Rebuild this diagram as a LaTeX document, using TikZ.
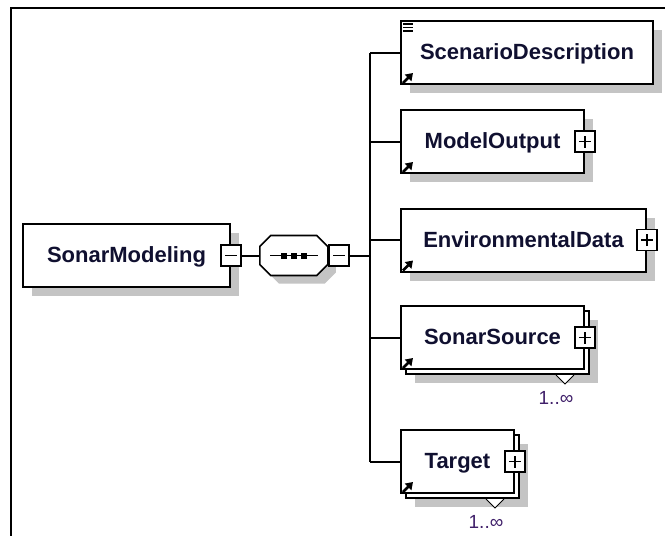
\documentclass[tikz,border=0pt]{standalone}
\usepackage{fontspec}
\setmainfont{Liberation Sans}
\usetikzlibrary{shadows,arrows.meta}

\begin{document}
\begin{tikzpicture}[x=1pt, y=-1pt,
    wire/.style={line width=2pt},
    elembase/.style={draw, line width=2pt, fill=white, anchor=west,
        minimum width=#1, minimum height=63, inner sep=0pt,
        text height=16pt, text depth=1.5pt, text=label_ink,
        font=\bfseries\fontsize{22}{26}\selectfont},
    elem/.style={elembase=#1,
        drop shadow={shadow xshift=9pt, shadow yshift=-9pt, fill=shade_grey, opacity=1}},
    stackelem/.style={elembase=#1,
        drop shadow={shadow xshift=14pt, shadow yshift=-14pt, fill=shade_grey, opacity=1},
        copy shadow={shadow xshift=5pt, shadow yshift=-5pt, fill=white, draw=black,
            line width=2pt, opacity=1}},
    toggle/.style={draw, line width=1.6pt, fill=white, minimum width=20,
        minimum height=21, inner sep=0pt},
    minusbox/.style={toggle, path picture={
        \draw[line width=1.5pt] ([xshift=-6pt]path picture bounding box.center)
            -- ([xshift=6pt]path picture bounding box.center);}},
    plusbox/.style={toggle, path picture={
        \draw[line width=1.5pt] ([xshift=-6pt]path picture bounding box.center)
            -- ([xshift=6pt]path picture bounding box.center)
            ([yshift=-6pt]path picture bounding box.center)
            -- ([yshift=6pt]path picture bounding box.center);}},
    seqoutline/.style={draw, line width=1.6pt, fill=white,
        drop shadow={shadow xshift=8pt, shadow yshift=-8pt, fill=shade_grey, opacity=1}},
    refarrow/.style={line width=2.6pt, -{Triangle[length=7pt, width=9pt]}},
    multiplicity/.style={text=occurs_ink, font=\fontsize{19}{22}\selectfont, inner sep=0pt}
]
    \definecolor{label_ink}{HTML}{101030}
    \definecolor{occurs_ink}{HTML}{40206A}
    \definecolor{shade_grey}{HTML}{C4C4C4}
    \path[use as bounding box, fill=white] (0,0) rectangle (665,536);
    %\draw[help lines] (0,0) grid[step=50] (665,536);
    \draw[line width=2pt] (11,536) -- (11,7.5) -- (665,7.5);

    % root element and its sequence
    \node[elem=207] (modeling) at (22,255.5) {SonarModeling};
    \node[minusbox] (modelingtoggle) at (modeling.east) {};
    \node[minimum width=68, minimum height=40, inner sep=0pt] (seq) at (294,255.5) {};
    \draw[seqoutline] ([shift={(0,-9)}]seq.west) -- ++(11,-11) -- ++(46,0) -- ++(11,11)
        -- ++(0,18) -- ++(-11,11) -- ++(-46,0) -- ++(-11,-11) -- cycle;
    \draw[line width=1.5pt] ([xshift=-24pt]seq.center) -- ([xshift=24pt]seq.center);
    \foreach \dx in {-10,0,10}
        \fill ([shift={(\dx-3,-3)}]seq.center) rectangle ++(6,6);
    \node[minusbox, anchor=west] (seqtoggle) at (seq.east) {};
    \coordinate (trunk) at (370,255.5);

    % children
    \node[elem=252] (scenario) at (400,52.5) {ScenarioDescription};
    \node[elem=183] (output) at (400,141.5) {ModelOutput};
    \node[elem=245] (environment) at (400,240) {EnvironmentalData};
    \node[stackelem=183] (source) at (400,337.5) {SonarSource};
    \node[stackelem=113] (target) at (400,461.5) {Target};
    \foreach \n in {output,environment,source,target}
        \node[plusbox] (\n toggle) at (\n.east) {};
    \foreach \dy in {4,7.5,11}
        \draw[line width=1.3pt] ([shift={(3,\dy)}]scenario.north west) -- ++(10,0);
    \foreach \n in {scenario,output,environment,source,target}
        \draw[refarrow] ([shift={(3,-2)}]\n.south west) -- ++(10,-10);
    \foreach \n in {source,target} {
        \coordinate (\n back) at ([shift={(5,5)}]\n.south east);
        \filldraw[fill=white, line width=1pt] ([xshift=-34pt]\n back)
            -- ([shift={(-25,9)}]\n back) -- ([xshift=-16pt]\n back);
        \node[multiplicity] (\n occurs) at ([shift={(-34,23)}]\n back) {1..∞};
    }

    % connectors
    \draw[wire] (modelingtoggle.east) -- (seq.west);
    \draw[wire] (seqtoggle.east) -- (trunk);
    \draw[wire] (trunk |- scenario.west) -- (trunk |- target.west);
    \foreach \n in {scenario,output,environment,source,target}
        \draw[wire] (trunk |- \n.west) -- (\n.west);
\end{tikzpicture}
\end{document}
